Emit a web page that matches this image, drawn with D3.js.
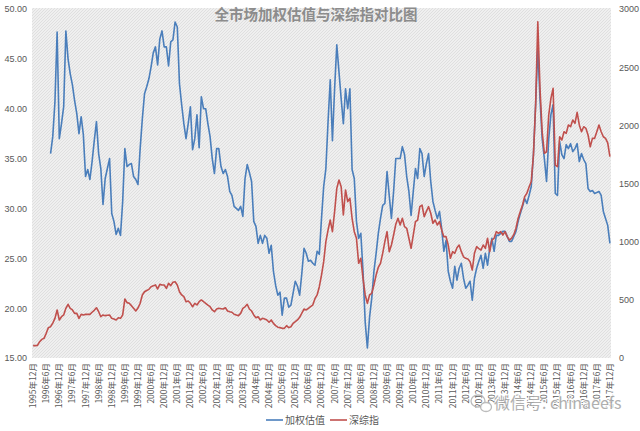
<!DOCTYPE html>
<html><head><meta charset="utf-8">
<script src="https://cdn.jsdelivr.net/npm/d3@7/dist/d3.min.js"></script>
<style>
html,body{margin:0;padding:0;background:#fff;}
svg text{font-family:"Noto Sans CJK SC","Noto Sans",sans-serif;}
</style></head>
<body><svg id="c" width="640" height="431"></svg>
<script>
const title = "全市场加权估值与深综指对比图";
const seriesNames = ["加权估值", "深综指"];
const startYear = 1995, startMonth = 12, monthCount = 265;
const tickLabels = ["1995年12月","1996年6月","1996年12月","1997年6月","1997年12月","1998年6月","1998年12月","1999年6月","1999年12月","2000年6月","2000年12月","2001年6月","2001年12月","2002年6月","2002年12月","2003年6月","2003年12月","2004年6月","2004年12月","2005年6月","2005年12月","2006年6月","2006年12月","2007年6月","2007年12月","2008年6月","2008年12月","2009年6月","2009年12月","2010年6月","2010年12月","2011年6月","2011年12月","2012年6月","2012年12月","2013年6月","2013年12月","2014年6月","2014年12月","2015年6月","2015年12月","2016年6月","2016年12月","2017年6月","2017年12月"];
const leftTicks = [15,20,25,30,35,40,45,50];
const rightTicks = [0,500,1000,1500,2000,2500,3000];

// 加权估值 (left axis), starts 1996-08
const valuation = [null,null,null,null,null,null,null,null,
35.5,37.2,40.7,47.7,37.0,38.5,40.2,47.8,45.0,43.5,
42.4,40.8,39.5,37.5,39.2,37.4,33.2,33.9,32.9,34.7,
36.8,38.7,35.5,34.0,30.4,33.0,34.0,35.0,29.5,28.7,
27.4,28.0,27.3,30.7,36.0,34.2,34.4,34.5,33.2,32.9,
32.4,36.0,39.0,41.5,42.2,43.0,44.2,45.6,46.2,44.4,
47.0,47.8,46.2,46.2,44.3,46.7,46.9,48.7,48.2,42.5,
40.4,38.5,37.0,38.5,40.2,35.9,37.0,39.4,36.1,41.2,
40.0,40.0,38.5,37.2,35.0,33.5,36.0,36.0,34.2,33.5,
33.9,33.2,31.7,31.3,30.2,30.0,29.8,30.2,29.2,33.0,
34.4,33.6,32.7,28.7,28.2,26.5,27.3,26.5,27.3,27.0,
25.5,26.3,23.7,22.3,21.3,21.6,19.3,21.0,21.0,20.1,
20.3,21.5,22.7,22.2,21.3,23.5,26.0,25.5,24.7,24.8,
24.5,24.3,25.7,25.4,29.0,32.2,34.0,38.7,42.9,36.8,
42.0,46.4,43.7,41.0,38.5,42.0,40.0,42.0,33.9,33.0,
28.7,27.0,27.5,23.7,18.6,16.0,19.1,21.0,23.7,25.5,
27.5,29.0,30.3,30.5,33.7,31.3,29.0,31.7,35.0,35.0,
35.0,36.2,35.4,33.2,31.7,29.3,31.7,34.0,33.0,36.0,
35.5,33.2,34.5,35.5,32.7,30.7,29.8,29.0,29.7,28.0,
25.7,26.8,23.7,22.7,22.0,24.2,22.8,24.0,24.5,23.0,
22.0,22.3,22.7,20.8,23.0,24.0,24.7,25.3,24.0,25.5,
24.3,26.0,27.0,25.7,27.3,27.3,27.5,27.7,27.7,27.2,
26.7,26.7,27.2,27.7,28.7,29.5,30.2,31.0,30.5,31.3,
32.2,35.4,40.4,46.1,41.0,37.0,35.0,32.7,37.0,39.4,
40.4,31.5,31.3,36.7,35.4,35.0,36.4,36.0,36.5,35.7,
36.0,36.5,34.7,35.5,34.9,34.5,32.0,31.7,31.8,31.5,
31.6,31.7,31.3,29.7,29.0,28.3,26.5];

// 深综指 (right axis)
const szIndex = [106,106,108,140,160,169,212,261,269,300,
341,413,327,355,370,427,462,427,413,384,
384,341,375,370,375,375,375,393,410,432,
398,355,370,364,368,370,341,335,327,346,
341,370,507,476,470,450,427,404,430,470,
542,570,580,590,613,620,628,593,633,628,
628,599,642,622,651,656,628,570,542,527,
484,490,470,441,470,456,484,499,484,470,
455,441,413,398,421,427,424,421,432,404,
398,393,376,370,364,384,427,440,462,421,
404,370,346,355,327,341,335,327,307,327,
298,278,265,261,255,255,278,261,269,298,
312,327,350,385,421,413,427,441,455,510,
542,613,713,828,1000,1100,1186,1086,1258,1458,
1530,1473,1229,1444,1344,1373,1201,1086,1029,814,
857,685,542,470,542,556,628,713,780,814,
900,1000,1086,914,971,1057,1150,1201,1143,1201,
1129,1115,1029,943,1057,1172,1186,1301,1315,1215,
1260,1301,1244,1158,1186,1143,1172,1100,1043,1043,
971,857,914,900,948,971,914,870,857,851,
828,756,900,957,940,928,971,943,1029,914,
1014,1029,1086,1072,1086,1057,1086,1043,1014,1030,
1060,1115,1201,1260,1315,1387,1416,1470,1516,1745,
2175,2891,2318,1945,1760,1773,2089,2232,2318,1659,
1644,1902,1874,1945,1931,2003,1988,2046,2017,2112,
2003,1945,1988,1974,1917,1816,1888,1888,1945,2003,
1945,1902,1888,1850,1730];

const months = [];
for (let k = 0; k < monthCount; k++) {
  const t = (startMonth - 1) + k;
  months.push((startYear + Math.floor(t / 12)) + "年" + (t % 12 + 1) + "月");
}

const svg = d3.select("#c");
const L = 32, R = 611, T = 9, B = 358;

const defs = svg.append("defs");
const pat = defs.append("pattern").attr("id","hatch").attr("patternUnits","userSpaceOnUse")
  .attr("width",3).attr("height",3);
pat.append("rect").attr("width",3).attr("height",3).attr("fill","#efefef");
pat.append("path").attr("d","M0,3 L3,0").attr("stroke","#dadada").attr("stroke-width",0.8);

svg.append("rect").attr("x",L).attr("y",T-1).attr("width",R-L).attr("height",B-T+1).attr("fill","url(#hatch)");

const x = d3.scaleBand().domain(months).range([L, R]).padding(0);
const yL = d3.scaleLinear().domain([15, 50]).range([B, T]);
const yR = d3.scaleLinear().domain([0, 3000]).range([B, T]);
const cx = m => x(m) + x.bandwidth() / 2;

const axL = svg.append("g").attr("transform", `translate(${L},0)`)
  .call(d3.axisLeft(yL).tickValues(leftTicks).tickFormat(d3.format(".2f")).tickSize(0).tickPadding(5));
const axR = svg.append("g").attr("transform", `translate(${R},0)`)
  .call(d3.axisRight(yR).tickValues(rightTicks).tickFormat(d3.format("d")).tickSize(0).tickPadding(8));
const tickSet = new Set(tickLabels);
const axB = svg.append("g").attr("transform", `translate(0,${B})`)
  .call(d3.axisBottom(x).tickValues(months.filter(m => tickSet.has(m))).tickSize(0).tickPadding(0));
axB.selectAll("text").attr("transform","rotate(-90)").attr("text-anchor","end")
  .attr("x",-5).attr("y",0).attr("dy","0.35em").style("font-size","8.5px");
[axL, axR, axB].forEach(a => {
  a.select(".domain").remove();
  a.selectAll("text").attr("fill","#595959");
});
axL.selectAll("text").style("font-size","9px").style("font-family","'Liberation Sans',sans-serif");
axR.selectAll("text").style("font-size","9px").style("font-family","'Liberation Sans',sans-serif");

const lineL = d3.line().defined(d => d != null).x((d, i) => cx(months[i])).y(d => yL(d));
const lineR = d3.line().defined(d => d != null).x((d, i) => cx(months[i])).y(d => yR(d));

svg.append("path").datum(valuation).attr("d", lineL).attr("fill","none")
  .attr("stroke","#4a7ebb").attr("stroke-width",1.6).attr("stroke-linejoin","round");
svg.append("path").datum(szIndex).attr("d", lineR).attr("fill","none")
  .attr("stroke","#c0504d").attr("stroke-width",1.6).attr("stroke-linejoin","round");

svg.append("text").attr("x",316).attr("y",20).attr("text-anchor","middle")
  .attr("fill","#8c8c8c").style("font-size","14.5px").style("font-weight","bold")
  .text(title);

// legend
const legend = svg.append("g");
const legItems = [{name: seriesNames[0], color:"#4a7ebb", x:266},{name: seriesNames[1], color:"#c0504d", x:330}];
legItems.forEach(it => {
  legend.append("line").attr("x1",it.x).attr("x2",it.x+17).attr("y1",420).attr("y2",420)
    .attr("stroke",it.color).attr("stroke-width",1.6);
  legend.append("text").attr("x",it.x+19).attr("y",424).attr("fill","#595959")
    .style("font-size","10px").text(it.name);
});

// watermark
const wm = svg.append("g").attr("opacity",0.9);
wm.append("ellipse").attr("cx",478).attr("cy",401).attr("rx",7).attr("ry",6)
  .attr("fill","none").attr("stroke","#b5b5b5").attr("stroke-width",1.3);
wm.append("ellipse").attr("cx",486).attr("cy",407).attr("rx",5.5).attr("ry",4.5)
  .attr("fill","#fff").attr("stroke","#b5b5b5").attr("stroke-width",1.3);
wm.append("text").attr("x",494).attr("y",409).attr("fill","#a8a8a8")
  .attr("stroke","#ffffff").attr("stroke-width",2).attr("paint-order","stroke")
  .style("font-size","16px").text("微信号: chinaeefs");
</script></body></html>
